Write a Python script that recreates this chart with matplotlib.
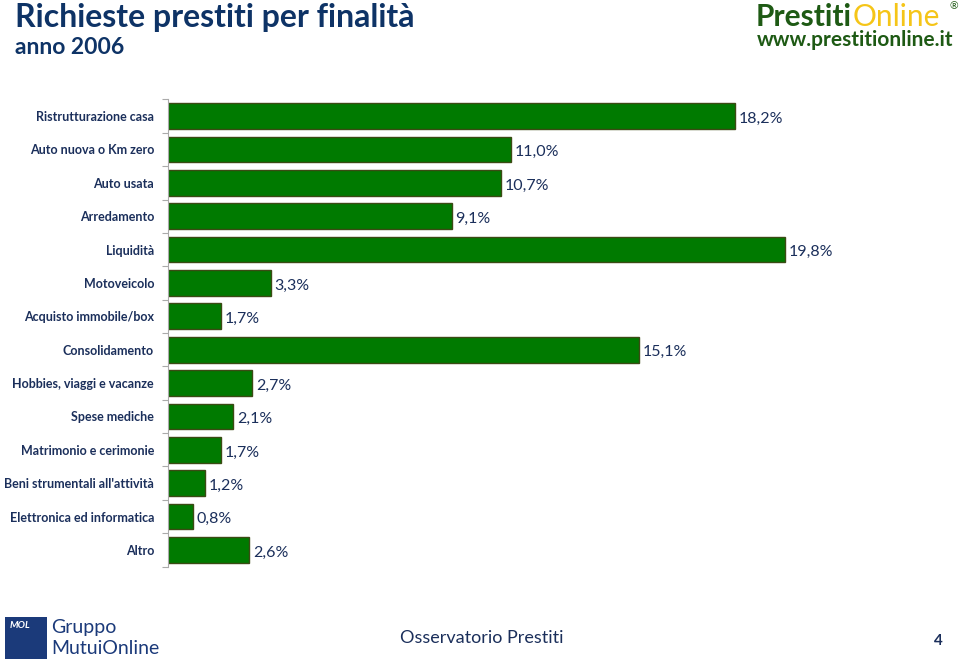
import matplotlib
matplotlib.use("Agg")
import matplotlib.pyplot as plt
from matplotlib.patches import Rectangle
import numpy as np

categories = ["Ristrutturazione casa", "Auto nuova o Km zero", "Auto usata", "Arredamento",
              "Liquidità", "Motoveicolo", "Acquisto immobile/box", "Consolidamento",
              "Hobbies, viaggi e vacanze", "Spese mediche", "Matrimonio e cerimonie",
              "Beni strumentali all'attività", "Elettronica ed informatica", "Altro"]
values = [18.2, 11.0, 10.7, 9.1, 19.8, 3.3, 1.7, 15.1, 2.7, 2.1, 1.7, 1.2, 0.8, 2.6]
value_labels = ["18,2%", "11,0%", "10,7%", "9,1%", "19,8%", "3,3%", "1,7%", "15,1%",
                "2,7%", "2,1%", "1,7%", "1,2%", "0,8%", "2,6%"]

NAVY = "#1B2F5B"
TITLE = "#0E3366"
GREEN = "#007A00"
EDGE = "#3B4A14"
FONT = ["Lato", "DejaVu Sans"]

fig = plt.figure(figsize=(9.6, 6.6), dpi=100)
ax = fig.add_axes([168/960, 1-566.6/660, 25*31.16/960, 467.2/660])

y = np.arange(len(categories))
ax.barh(y, values, height=0.77, color=GREEN, edgecolor=EDGE, linewidth=1.0)
ax.set_ylim(len(categories)-0.5, -0.5)
ax.set_xlim(0, 25)
for yi, v, lab in zip(y, values, value_labels):
    ax.text(v + 0.12, yi + 0.08, lab, va="center", ha="left", fontsize=11.5,
            color=NAVY, family=FONT)

ax.set_yticks(y)
ax.set_yticklabels(categories, fontsize=9, fontweight="bold", color=NAVY, family=FONT)
ax.tick_params(axis="y", length=0, pad=10)
ax.set_yticks(np.arange(-0.5, len(categories), 1), minor=True)
ax.tick_params(axis="y", which="minor", length=4, color="#AAAAAA", width=0.8)
ax.set_xticks([])
for s in ["top", "right", "bottom"]:
    ax.spines[s].set_visible(False)
ax.spines["left"].set_color("#AAAAAA")
ax.spines["left"].set_linewidth(0.8)

# Title
fig.text(15/960, 1-17/660, "Richieste prestiti per finalità", fontsize=23, fontweight="bold",
         color=TITLE, family=FONT, va="center", ha="left")
fig.text(15/960, 1-47/660, "anno 2006", fontsize=16.5, fontweight="bold",
         color=TITLE, family=FONT, va="center", ha="left")

# PrestitiOnline logo
t1 = fig.text(756/960, 1-17/660, "Prestiti", fontsize=21.5, fontweight="bold",
              color="#1E5A14", family=FONT, va="center", ha="left")
fig.canvas.draw()
bb = t1.get_window_extent()
fig.text(bb.x1/960 + 0.001, 1-17/660, "Online", fontsize=21.5, color="#F5C518",
         family=FONT, va="center", ha="left")
fig.text(954/960, 1-7/660, "®", fontsize=7.5, color="#1E5A14", family=FONT, va="center", ha="center")
fig.text(953/960, 1-40/660, "www.prestitionline.it", fontsize=15, fontweight="bold",
         color="#1E5A14", family=FONT, va="center", ha="right")

# Bottom logo
fig.patches.append(Rectangle((5/960, 1-659/660), 42/960, 42/660, transform=fig.transFigure,
                             facecolor="#1B3A7A", edgecolor="none"))
fig.text(10/960, 1-626/660, "MOL", fontsize=7, fontweight="bold", color="white",
         family=FONT, va="center", ha="left", style="italic")
fig.text(51/960, 1-627/660, "Gruppo", fontsize=14, color="#1B3A7A", family=FONT,
         va="center", ha="left")
fig.text(51/960, 1-649/660, "MutuiOnline", fontsize=14, color="#1B3A7A", family=FONT,
         va="center", ha="left")
fig.text(482/960, 1-638/660, "Osservatorio Prestiti", fontsize=13, color=NAVY,
         family=FONT, va="center", ha="center")
fig.text(938/960, 1-641/660, "4", fontsize=11, fontweight="bold", color=NAVY,
         family=FONT, va="center", ha="center")

fig.savefig("out.png", dpi=100)
